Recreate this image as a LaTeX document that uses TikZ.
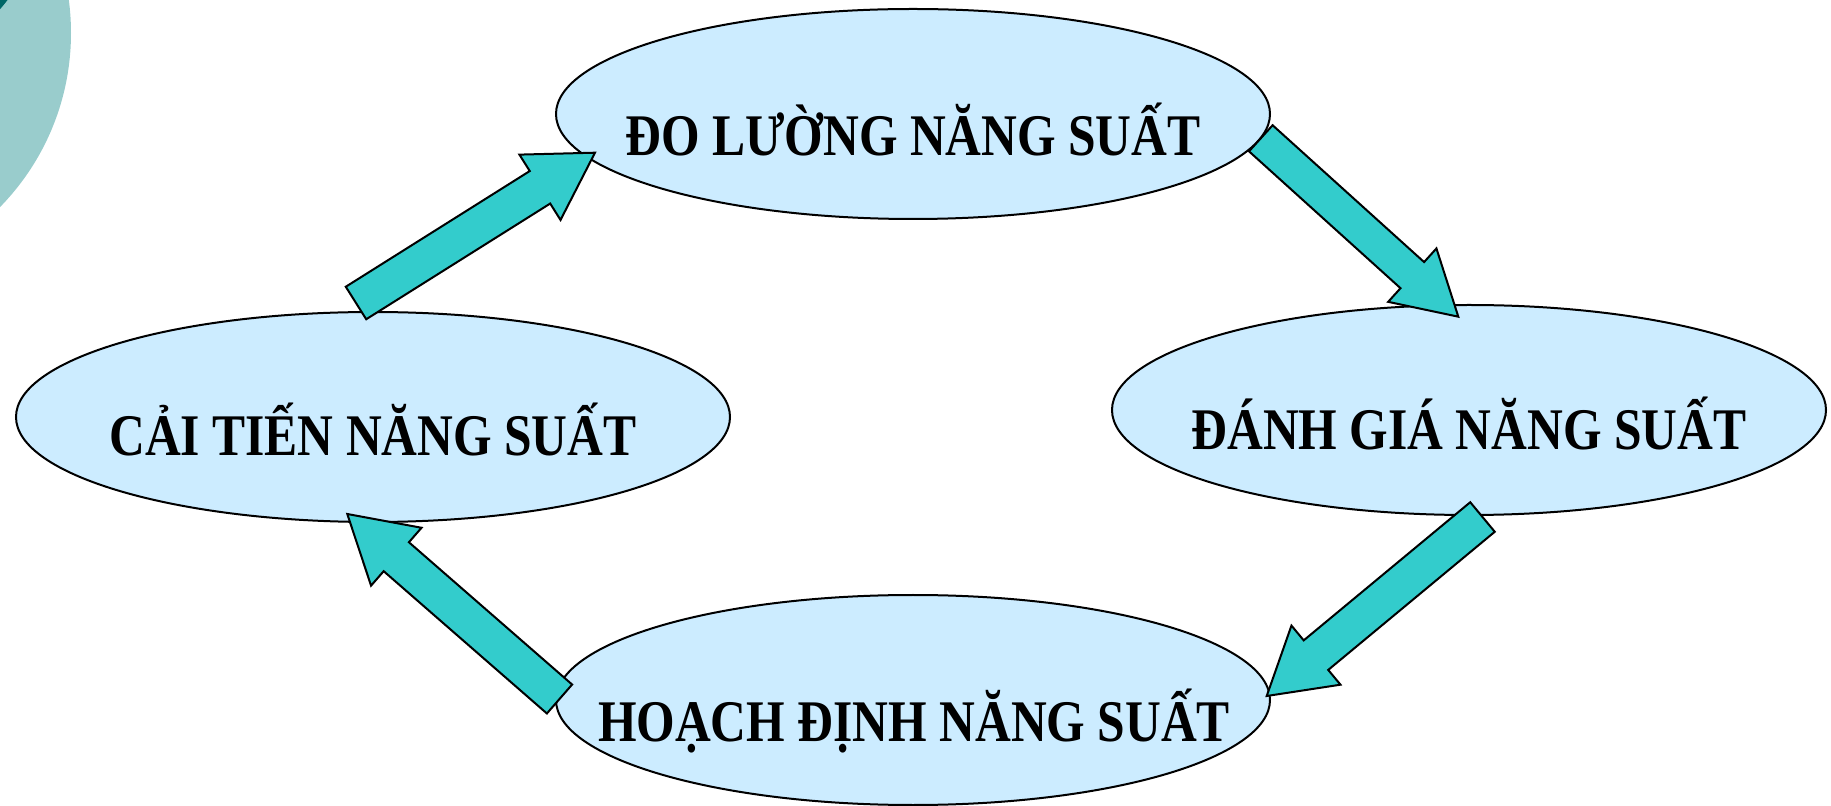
\documentclass[tikz,border=0pt]{standalone}
\usepackage{fontspec}
\setmainfont{Liberation Serif}[FakeStretch=0.84]
\usetikzlibrary{shapes.geometric,calc}
\definecolor{ellfill}{HTML}{CCECFF}
\definecolor{arrfill}{HTML}{33CCCC}
\definecolor{circlight}{HTML}{99CCCC}
\definecolor{circdark}{HTML}{006666}
\tikzset{
  ellbox/.style={ellipse, draw=black, line width=1pt, fill=ellfill,
    minimum width=357pt, minimum height=105pt, inner sep=0pt},
  lbl/.style={font=\fontsize{29.5}{35}\selectfont\bfseries, inner sep=0pt, anchor=base},
  arrowbox/.style={draw=black, line width=1pt, fill=arrfill, line join=miter}
}
\newcommand\blockarrow[5]{%
  \coordinate (ba-h) at ($(#2)!#5!(#1)$);
  \draw[arrowbox] ($(#1)!#3!90:(#2)$) -- ($(ba-h)!#3!-90:(#1)$) --
    ($(ba-h)!#4!-90:(#1)$) -- (#2) -- ($(ba-h)!#4!90:(#1)$) --
    ($(ba-h)!#3!90:(#1)$) -- ($(#1)!#3!-90:(#2)$) -- cycle;}
\begin{document}
\begin{tikzpicture}[x=0.5pt,y=-0.5pt]
\useasboundingbox (0,0) rectangle (1831,806);
\begin{scope}
  \clip (0,0) rectangle (1831,806);
  \fill[circlight] (-178,33) circle[radius=124.5pt];
  \fill[circdark] (-100,-80) circle[radius=67pt];
\end{scope}
\node[ellbox] (meas) at (913,114) {};
\node[ellbox] (impr) at (373,417) {};
\node[ellbox] (eval) at (1469,410) {};
\node[ellbox] (plan) at (913,700) {};
% arrow endpoints
\coordinate (a1t) at (356,303);   \coordinate (a1h) at (595,152.7);
\coordinate (a2t) at (1260.8,138.3); \coordinate (a2h) at (1458.3,316.7);
\coordinate (a3t) at (1482.5,517); \coordinate (a3h) at (1266.7,696);
\coordinate (a4t) at (559.5,699);  \coordinate (a4h) at (347.3,514);
\blockarrow{a1t}{a1h}{9.6pt}{19.3pt}{32.5pt}
\blockarrow{a2t}{a2h}{8.8pt}{18pt}{31pt}
\blockarrow{a3t}{a3h}{9.6pt}{19.2pt}{32pt}
\blockarrow{a4t}{a4h}{9.6pt}{19.2pt}{32.5pt}
\node[lbl] (tmeas) at (913,156) {ĐO LƯỜNG NĂNG SUẤT};
\node[lbl] (timpr) at (373,456) {CẢI TIẾN NĂNG SUẤT};
\node[lbl] (teval) at (1469,450) {ĐÁNH GIÁ NĂNG SUẤT};
\node[lbl] (tplan) at (914,741) {HOẠCH ĐỊNH NĂNG SUẤT};
\end{tikzpicture}
\end{document}
